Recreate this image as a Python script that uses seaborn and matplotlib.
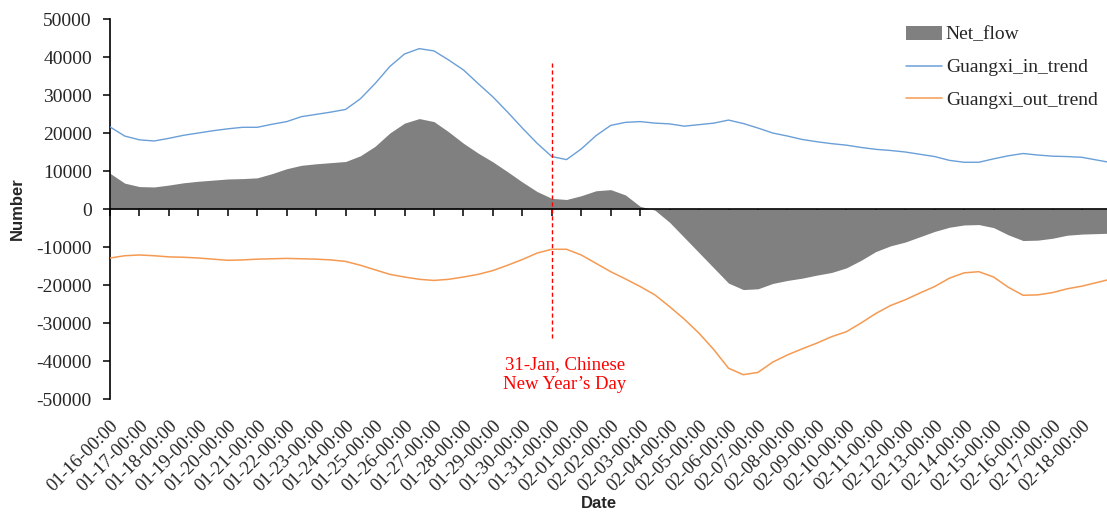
import numpy as np
import matplotlib
matplotlib.use("Agg")
import matplotlib.pyplot as plt
import seaborn as sns
import pandas as pd
from matplotlib.patches import Patch
from matplotlib.lines import Line2D

# x = days since 01-16 00:00, half-day steps, last point just before 02-19
days = list(np.arange(0, 33.5, 0.5)) + [33.85]

net_flow = [9400, 6800, 5900, 5800, 6300, 6900, 7300, 7600, 7900, 8000,
            8200, 9300, 10600, 11500, 11900, 12200, 12500, 14000, 16500, 20000,
            22600, 23800, 23000, 20300, 17300, 14700, 12400, 9800, 7100, 4600,
            2800, 2500, 3500, 4800, 5100, 3700, 700, -300, -3500, -7500,
            -11500, -15500, -19500, -21200, -21000, -19600, -18800, -18200, -17400, -16700,
            -15500, -13500, -11200, -9700, -8700, -7300, -5900, -4800, -4200, -4100,
            -4900, -6800, -8300, -8200, -7700, -6900, -6600, -6400]

in_trend = [21600, 19200, 18200, 17900, 18600, 19400, 20000, 20600, 21100, 21500,
            21500, 22300, 23000, 24300, 24900, 25500, 26200, 29000, 33000, 37500,
            40800, 42200, 41600, 39200, 36600, 33000, 29500, 25500, 21300, 17300,
            13800, 13000, 15800, 19300, 22000, 22800, 23000, 22600, 22400, 21800,
            22200, 22600, 23400, 22500, 21300, 20000, 19200, 18300, 17700, 17200,
            16800, 16200, 15700, 15400, 15000, 14400, 13800, 12800, 12300, 12300,
            13200, 14000, 14600, 14200, 13900, 13800, 13600, 12400]

out_trend = [-12900, -12300, -12100, -12300, -12600, -12700, -12900, -13200, -13500, -13400,
             -13200, -13100, -13000, -13100, -13200, -13400, -13800, -14800, -16000, -17200,
             -17900, -18500, -18800, -18500, -17900, -17200, -16200, -14800, -13300, -11600,
             -10600, -10600, -12100, -14300, -16500, -18400, -20400, -22600, -25700, -29000,
             -32700, -37000, -41900, -43600, -43000, -40300, -38400, -36800, -35300, -33600,
             -32300, -30000, -27500, -25400, -23900, -22100, -20400, -18200, -16800, -16500,
             -17900, -20600, -22700, -22600, -22000, -21000, -20300, -18700]

tick_days = list(range(0, 34))
tick_labels = [d.strftime("%m-%d-00:00") for d in pd.date_range("2022-01-16", periods=34)]

cny_day = 15
cny_text = "31-Jan, Chinese\nNew Year\u2019s Day"

df = pd.DataFrame({"day": days, "net": net_flow, "in": in_trend, "out": out_trend})

sns.set_style("white")
plt.rcParams['font.family'] = ['Liberation Serif', 'DejaVu Serif']

fig = plt.figure(figsize=(11.07, 5.14), dpi=100)
ax = fig.add_axes([110/1107, 1-399/514, 1-110/1107, 380/514])

ax.fill_between(df["day"], 0, df["net"], color="#808080", lw=0, zorder=1)
sns.lineplot(data=df, x="day", y="in", ax=ax, color="#6A9FD8", lw=1.0, zorder=3)
sns.lineplot(data=df, x="day", y="out", ax=ax, color="#F59A52", lw=1.1, zorder=3)

ax.plot([cny_day, cny_day], [38500, -34500], color="red", lw=1.0,
        linestyle=(0, (3, 2)), zorder=4)
ax.text(cny_day + 0.45, -38800, cny_text, color="red", fontsize=13.5,
        ha="center", va="top", linespacing=1.2)

ax.set_xlim(0, 33.85)
ax.set_ylim(-50000, 50000)
ax.set_yticks(np.arange(-50000, 50001, 10000))
ax.set_yticklabels([str(v) for v in range(-50000, 50001, 10000)])

for s in ["top", "right"]:
    ax.spines[s].set_visible(False)
ax.spines["left"].set_color("black")
ax.spines["left"].set_linewidth(1.2)
ax.spines["bottom"].set_position(("data", 0))
ax.spines["bottom"].set_color("black")
ax.spines["bottom"].set_linewidth(1.2)
ax.spines["bottom"].set_zorder(5)

ax.set_xticks(tick_days)
ax.tick_params(axis="x", direction="out", length=5, width=1.1, color="black",
               labelbottom=False, bottom=True)
ax.tick_params(axis="y", direction="out", length=5, width=1.1, color="black",
               left=True, labelsize=14, pad=8)
ax.set_xlabel("")
ax.set_ylabel("Number", family="Liberation Sans", fontweight="bold",
              fontsize=12, labelpad=8)

sec = ax.secondary_xaxis("bottom")
sec.spines["bottom"].set_visible(False)
sec.set_xticks(tick_days)
sec.set_xticklabels(tick_labels, rotation=45, ha="right", va="top",
                    rotation_mode="anchor", fontsize=13.5)
sec.tick_params(axis="x", length=0, pad=13)
sec.set_xlabel("Date", family="Liberation Sans", fontweight="bold",
               fontsize=12, labelpad=1, x=0.49)

handles = [Patch(facecolor="#808080", edgecolor="none"),
           Line2D([], [], color="#6A9FD8", lw=1.1),
           Line2D([], [], color="#F59A52", lw=1.1)]
fig.legend(handles, ["Net_flow", "Guangxi_in_trend", "Guangxi_out_trend"],
           loc="upper left", bbox_to_anchor=(906/1107, 1-26/514), frameon=False,
           fontsize=14, handlelength=1.85, handletextpad=0.2, labelspacing=0.78,
           borderpad=0, borderaxespad=0)

fig.savefig("out.png", dpi=100)
